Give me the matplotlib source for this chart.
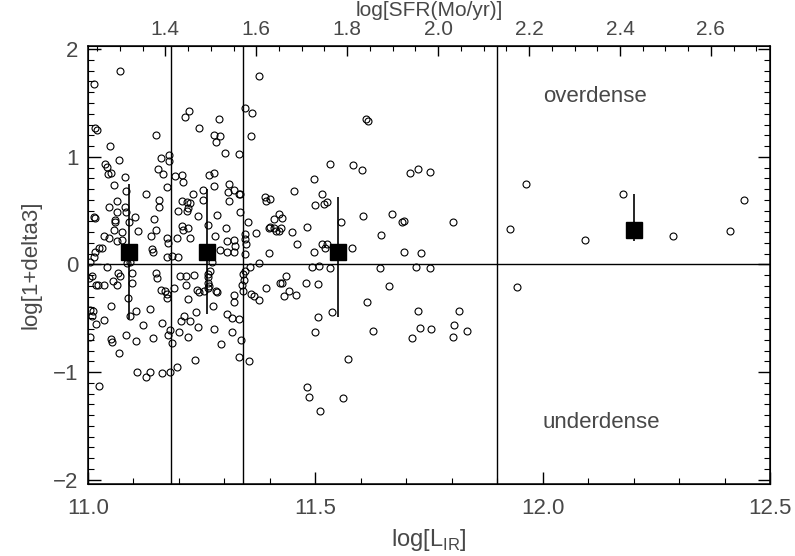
import matplotlib
matplotlib.use('Agg')
import matplotlib.pyplot as plt
from matplotlib.ticker import MultipleLocator, FormatStrFormatter

plt.rcParams['font.family'] = ['Liberation Sans', 'DejaVu Sans']
plt.rcParams['mathtext.fontset'] = 'custom'
plt.rcParams['mathtext.rm'] = 'Liberation Sans'

# individual galaxies: log L_IR and log(1+delta3)
lir = [11.070, 11.013, 11.015, 11.019, 11.048, 11.069, 11.038, 11.042, 11.045, 11.051,
       11.058, 11.081, 11.084, 11.063, 11.047, 11.064, 11.081, 11.083, 11.013, 11.015,
       11.059, 11.060, 11.091, 11.103, 11.127, 11.149, 11.161, 11.155, 11.166, 11.173,
       11.157, 11.157, 11.145, 11.179, 11.179, 11.214, 11.222, 11.245, 11.287, 11.277,
       11.290, 11.281, 11.301, 11.333, 11.191, 11.206, 11.210, 11.267, 11.277, 11.278,
       11.311, 11.308, 11.321, 11.331, 11.334, 11.232, 11.254, 11.254, 11.206, 11.217,
       11.224, 11.221, 11.218, 11.311, 11.199, 11.243, 11.283, 11.334, 11.377, 11.345,
       11.361, 11.358, 11.389, 11.391, 11.400, 11.419, 11.408, 11.351, 11.400,
       11.207, 11.221, 11.210, 11.265, 11.303, 11.408, 11.035, 11.047, 11.058, 11.074,
       11.063, 11.074, 11.111, 11.138, 11.149, 11.173, 11.175, 11.196, 11.224, 11.279,
       11.305, 11.321, 11.323, 11.345, 11.345, 11.369, 11.397, 11.413, 11.015, 11.024,
       11.031, 11.013, 11.004, 11.140, 11.142, 11.174, 11.184, 11.197, 11.290, 11.305,
       11.320, 11.347, 11.345, 11.397, 11.375, 11.085, 11.092, 11.272, 11.008, 11.003,
       11.041, 11.067, 11.070, 11.056, 11.063, 11.018, 11.023, 11.035, 11.096, 11.096,
       11.150, 11.151, 11.169, 11.174, 11.174, 11.160, 11.189, 11.202, 11.216, 11.215,
       11.234, 11.221, 11.240, 11.244, 11.255, 11.265, 11.267, 11.282, 11.283, 11.264,
       11.268, 11.263, 11.265, 11.340, 11.342, 11.338, 11.340, 11.345, 11.356, 11.358,
       11.364, 11.376, 11.391, 11.422, 11.321, 11.320, 11.087, 11.051, 11.004, 11.012,
       11.008, 11.018, 11.036, 11.092, 11.106, 11.136, 11.120, 11.163, 11.211, 11.204,
       11.224, 11.237, 11.241, 11.274, 11.306, 11.316, 11.332, 11.276, 11.316, 11.180,
       11.177, 11.185, 11.201, 11.221, 11.004, 11.050, 11.052, 11.083, 11.106, 11.144,
       11.292, 11.336, 11.069, 11.235, 11.331, 11.354, 11.196, 11.108, 11.128, 11.136,
       11.162, 11.180, 11.025,
       11.611, 11.615, 11.533, 11.583, 11.603, 11.708, 11.726, 11.752, 11.496, 11.454,
       11.515, 11.499, 11.520, 11.526, 11.427, 11.556, 11.604, 11.668, 11.691, 11.696,
       11.802, 11.481, 11.424, 11.419, 11.449, 11.459, 11.498, 11.515, 11.525, 11.521,
       11.581, 11.644, 11.695, 11.732, 11.493, 11.509, 11.532, 11.642, 11.721, 11.753,
       11.435, 11.426, 11.479, 11.506, 11.442, 11.430, 11.457, 11.663, 11.614, 11.726,
       11.816, 11.537, 11.506, 11.731, 11.754, 11.806, 11.834, 11.713, 11.802, 11.500,
       11.627, 11.572, 11.481, 11.487, 11.560, 11.510,
       11.963, 11.928, 12.092, 12.177, 12.286, 12.412, 12.443, 11.943]

delta = [1.80, 1.68, 1.27, 1.25, 1.10, 0.97, 0.93, 0.91, 0.84, 0.85,
         0.74, 0.81, 0.68, 0.59, 0.53, 0.49, 0.53, 0.49, 0.44, 0.43,
         0.41, 0.39, 0.39, 0.44, 0.65, 1.20, 0.99, 0.89, 0.84, 0.72,
         0.60, 0.53, 0.42, 1.02, 0.96, 1.37, 1.43, 1.27, 1.35, 1.20,
         1.19, 1.14, 1.04, 1.03, 0.82, 0.83, 0.77, 0.83, 0.85, 0.73,
         0.75, 0.67, 0.69, 0.65, 0.65, 0.65, 0.69, 0.60, 0.59, 0.58,
         0.57, 0.52, 0.50, 0.59, 0.50, 0.45, 0.46, 0.49, 1.75, 1.45,
         1.41, 1.19, 0.63, 0.59, 0.61, 0.47, 0.42, 0.39, 0.35,
         0.36, 0.34, 0.32, 0.37, 0.34, 0.34, 0.26, 0.25, 0.32, 0.30,
         0.22, 0.23, 0.31, 0.26, 0.32, 0.25, 0.20, 0.25, 0.25, 0.26,
         0.22, 0.23, 0.17, 0.28, 0.24, 0.29, 0.34, 0.31, 0.12, 0.15,
         0.15, 0.07, 0.02, 0.14, 0.12, 0.07, 0.08, 0.07, 0.13, 0.12,
         0.12, 0.19, 0.10, 0.11, 0.01, 0.01, 0.02, 0.02, -0.11, -0.13,
         -0.02, -0.08, -0.11, -0.15, -0.19, -0.19, -0.19, -0.19, -0.08, -0.17,
         -0.08, -0.13, -0.25, -0.27, -0.31, -0.24, -0.22, -0.11, -0.11, -0.19,
         -0.10, -0.32, -0.24, -0.26, -0.25, -0.22, -0.20, -0.25, -0.26, -0.17,
         -0.06, -0.12, -0.09, -0.09, -0.14, -0.19, -0.25, -0.06, -0.02, -0.27,
         -0.29, -0.33, -0.22, -0.17, -0.28, -0.35, -0.31, -0.39, -0.42, -0.43,
         -0.48, -0.55, -0.52, -0.48, -0.43, -0.41, -0.56, -0.54, -0.48, -0.53,
         -0.53, -0.44, -0.58, -0.39, -0.46, -0.50, -0.51, -0.60, -0.63, -0.61,
         -0.66, -0.73, -0.63, -0.67, -0.67, -0.69, -0.72, -0.66, -0.71, -0.68,
         -0.74, -0.70, -0.82, -0.89, -0.86, -0.90, -0.95, -1.00, -1.05, -1.00,
         -1.01, -1.00, -1.13,
         1.35, 1.33, 0.93, 0.92, 0.88, 0.85, 0.89, 0.86, 0.79, 0.68,
         0.65, 0.55, 0.56, 0.58, 0.43, 0.39, 0.45, 0.47, 0.39, 0.40,
         0.39, 0.35, 0.34, 0.31, 0.30, 0.19, 0.12, 0.19, 0.19, 0.15,
         0.15, 0.27, 0.12, 0.11, -0.02, -0.01, -0.03, -0.03, -0.02, -0.03,
         -0.11, -0.17, -0.17, -0.18, -0.25, -0.29, -0.28, -0.20, -0.35, -0.43,
         -0.43, -0.44, -0.49, -0.59, -0.60, -0.56, -0.62, -0.68, -0.67, -0.63,
         -0.62, -0.88, -1.14, -1.23, -1.24, -1.36,
         0.75, 0.33, 0.23, 0.65, 0.26, 0.31, 0.60, -0.21]

# binned medians with their spread
bin_lir = [11.091, 11.261, 11.549, 12.200]
bin_med = [0.12, 0.12, 0.12, 0.32]
bin_hi = [0.75, 0.70, 0.63, 0.65]
bin_lo = [-0.51, -0.46, -0.49, 0.22]

# luminosity bin edges
edges = [11.183, 11.341, 11.90]

txt = '#484848'

fig = plt.figure(figsize=(7.95, 5.56), dpi=100)
ax = fig.add_axes([0.1107, 0.1295, 0.8579, 0.7878])

ax.plot(lir, delta, 'o', mfc='none', mec='black', mew=0.8, ms=5, zorder=3)

for e in edges:
    ax.axvline(e, color='black', lw=1.0, zorder=2)
ax.axhline(0, color='black', lw=1.0, zorder=2)

err = [[m - l for m, l in zip(bin_med, bin_lo)], [h - m for m, h in zip(bin_med, bin_hi)]]
ax.errorbar(bin_lir, bin_med, yerr=err, fmt='none', ecolor='black', elinewidth=1.2, capsize=0, zorder=4)
ax.plot(bin_lir, bin_med, 's', color='black', ms=11, zorder=5)

ax.text(12.0, 1.56, 'overdense', fontsize=16, color=txt, va='center', ha='left')
ax.text(12.0, -1.47, 'underdense', fontsize=16, color=txt, va='center', ha='left')

ax.set_xlim(11.0, 12.5)
ax.set_ylim(-2.04, 2.03)
ax.xaxis.set_major_locator(MultipleLocator(0.5))
ax.xaxis.set_minor_locator(MultipleLocator(0.1))
ax.xaxis.set_major_formatter(FormatStrFormatter('%.1f'))
ax.yaxis.set_major_locator(MultipleLocator(1))
ax.yaxis.set_minor_locator(MultipleLocator(0.1))
ax.tick_params(which='both', direction='in', top=False, right=True, colors='black', labelcolor=txt)
ax.tick_params(which='major', length=9, width=1.0, labelsize=16)
ax.tick_params(which='minor', length=4.5, width=0.8)
ax.tick_params(axis='x', which='major', pad=10)
ax.tick_params(axis='y', which='major', pad=7)

ax.set_xlabel('log[L$_{\\rm IR}$]', fontsize=17, color=txt, labelpad=6)
ax.set_ylabel('log[1+delta3]', fontsize=16, color=txt, labelpad=8)

for sp in ax.spines.values():
    sp.set_linewidth(1.1)

# top axis: star formation rate
top = ax.twiny()
top.set_xlim(11.0 - 9.77, 12.5 - 9.77)
top.xaxis.set_major_locator(MultipleLocator(0.2))
top.xaxis.set_minor_locator(MultipleLocator(0.05))
top.xaxis.set_major_formatter(FormatStrFormatter('%.1f'))
top.tick_params(which='both', direction='in', labelcolor=txt)
top.tick_params(which='major', length=7, width=1.0, labelsize=15, pad=5)
top.tick_params(which='minor', length=3.5, width=0.8)
top.set_xlabel('log[SFR(Mo/yr)]', fontsize=15, color=txt, labelpad=3)

plt.savefig('out.png', dpi=100)
